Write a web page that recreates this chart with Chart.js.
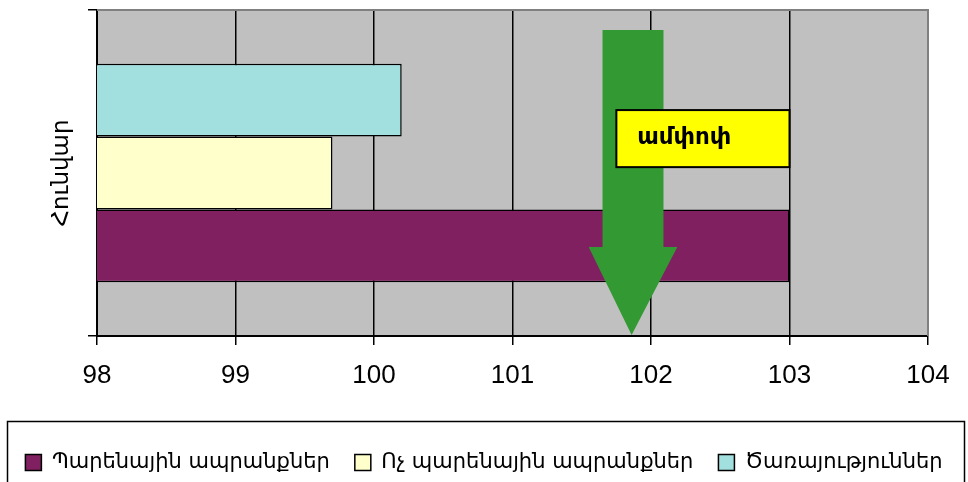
<!DOCTYPE html>
<html><head><meta charset="utf-8">
<script src="https://cdn.jsdelivr.net/npm/chart.js@4"></script>
<style>html,body{margin:0;padding:0;background:#fff}#wrap{width:968px;height:482px}</style>
</head><body><div id="wrap"><canvas id="c" width="968" height="482"></canvas></div>
<script>
// ---- data ----
const categories = [''];
const seriesNames = ['Պարենային ապրանքներ', 'Ոչ պարենային ապրանքներ', 'Ծառայություններ'];
const foodValues = [103.0];
const nonFoodValues = [99.7];
const servicesValues = [100.2];
const xMin = 98, xMax = 104, xStep = 1;
const yTitle = 'Հունվար';
const noteText = 'ամփոփ';

// ---- styles ----
const ARM = "'DejaVu Sans', 'Liberation Sans', sans-serif";
const LAT = "'Liberation Sans', Arial, sans-serif";
const PAD_BOTTOM = -1;
const PLOT_BOTTOM = 336;

// annotation geometry (x in axis units, y as fraction of plot height)
const arrowShape = { shaftL: 101.65, shaftR: 102.09, headL: 101.55, headR: 102.19, tip: 101.86, top: 0.061, headBase: 0.727, tipY: 0.997 };
const noteBox = { x0: 101.75, x1: 103.0, y0: 0.307, y1: 0.482, textX: 101.9, textY: 0.393 };

const plotBg = {
  id: 'plotBg',
  beforeDraw(chart) {
    const { ctx, chartArea: a } = chart;
    ctx.save();
    ctx.fillStyle = '#C0C0C0';
    ctx.fillRect(a.left, a.top, a.right - a.left, a.bottom - a.top);
    ctx.restore();
  },
  afterDraw(chart) {
    const { ctx, chartArea: a } = chart;
    ctx.save();
    ctx.strokeStyle = '#808080';
    ctx.lineWidth = 2;
    ctx.beginPath();
    ctx.moveTo(a.left, a.top); ctx.lineTo(a.right, a.top); ctx.lineTo(a.right, a.bottom);
    ctx.stroke();
    // legend frame
    ctx.strokeStyle = '#000';
    ctx.lineWidth = 1.5;
    ctx.strokeRect(7.5, 421.5, 957, 100);
    ctx.restore();
  }
};

const annot = {
  id: 'annot',
  afterDatasetsDraw(chart) {
    const { ctx, chartArea: a, scales: { x } } = chart;
    const Y = f => a.top + f * (a.bottom - a.top);
    const s = arrowShape;
    ctx.save();
    ctx.fillStyle = '#339933';
    ctx.beginPath();
    ctx.moveTo(x.getPixelForValue(s.shaftL), Y(s.top));
    ctx.lineTo(x.getPixelForValue(s.shaftR), Y(s.top));
    ctx.lineTo(x.getPixelForValue(s.shaftR), Y(s.headBase));
    ctx.lineTo(x.getPixelForValue(s.headR), Y(s.headBase));
    ctx.lineTo(x.getPixelForValue(s.tip), Y(s.tipY));
    ctx.lineTo(x.getPixelForValue(s.headL), Y(s.headBase));
    ctx.lineTo(x.getPixelForValue(s.shaftL), Y(s.headBase));
    ctx.closePath();
    ctx.fill();
    const b = noteBox;
    const bx0 = x.getPixelForValue(b.x0), bx1 = x.getPixelForValue(b.x1);
    ctx.fillStyle = '#FFFF00';
    ctx.fillRect(bx0, Y(b.y0), bx1 - bx0, Y(b.y1) - Y(b.y0));
    ctx.strokeStyle = '#000';
    ctx.lineWidth = 2;
    ctx.strokeRect(bx0, Y(b.y0), bx1 - bx0, Y(b.y1) - Y(b.y0));
    ctx.fillStyle = '#000';
    ctx.font = 'bold 23px ' + ARM;
    ctx.textBaseline = 'middle';
    ctx.textAlign = 'left';
    ctx.fillText(noteText, x.getPixelForValue(b.textX), Y(b.textY));
    ctx.restore();
  }
};

new Chart(document.getElementById('c'), {
  type: 'bar',
  data: {
    labels: categories,
    datasets: [
      { label: seriesNames[2], data: servicesValues, backgroundColor: '#A2DFDF', borderColor: '#000', borderWidth: 1.5, borderSkipped: false },
      { label: seriesNames[1], data: nonFoodValues, backgroundColor: '#FFFFCC', borderColor: '#000', borderWidth: 1.5, borderSkipped: false },
      { label: seriesNames[0], data: foodValues, backgroundColor: '#802060', borderColor: '#000', borderWidth: 1.5, borderSkipped: false }
    ]
  },
  options: {
    indexAxis: 'y',
    responsive: false,
    animation: false,
    layout: { padding: { top: 10, right: 0, bottom: PAD_BOTTOM, left: 0 } },
    categoryPercentage: 0.67,
    barPercentage: 1,
    scales: {
      x: {
        min: xMin, max: xMax,
        ticks: { stepSize: xStep, color: '#000', font: { family: LAT, size: 26 }, padding: 15 },
        grid: { color: '#000', lineWidth: 1.5, tickLength: 9, drawTicks: true },
        border: { color: '#000', width: 2 },
        afterFit(s) { s.height = 482 - PLOT_BOTTOM - s.chart.legend.height - PAD_BOTTOM; }
      },
      y: {
        ticks: { display: true, padding: 0 },
        grid: { color: '#000', lineWidth: 1.5, drawOnChartArea: false, tickLength: 9, offset: true },
        border: { color: '#000', width: 2 },
        title: { display: true, text: yTitle, color: '#000', font: { family: ARM, size: 23 }, padding: { top: 48, bottom: 0 } },
        afterFit(s) { s.width = 97; }
      },
      yRight: {
        type: 'category',
        position: 'right',
        display: true,
        grid: { display: false, drawTicks: false },
        border: { display: false },
        ticks: { display: false },
        afterFit(s) { s.width = 40; }
      }
    },
    plugins: {
      legend: {
        position: 'bottom',
        labels: {
          color: '#000',
          font: { family: ARM, size: 21 },
          boxWidth: 16, boxHeight: 16, padding: 25,
          sort: (a, b) => b.datasetIndex - a.datasetIndex
        }
      },
      tooltip: { enabled: false }
    }
  },
  plugins: [plotBg, annot]
});
</script>
</body></html>
